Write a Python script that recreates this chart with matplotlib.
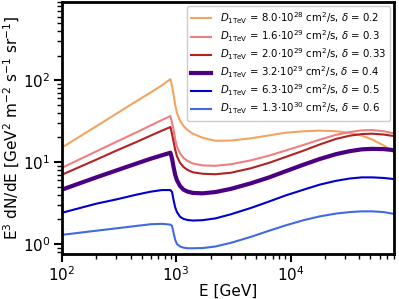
import numpy as np
import matplotlib
matplotlib.use("Agg")
import matplotlib.pyplot as plt

energy = [100, 200, 300, 450, 600, 750, 890, 920, 950, 980, 1015, 1080, 1160, 1260,
          1400, 1700, 2200, 3000, 4500, 6500, 9000, 13000, 18000, 25000, 33000,
          42000, 52000, 65000, 80000]

flux_d02 = [15.0, 27.4, 39.0, 55.5, 71.0, 86.5, 103.0, 85.0, 66.0, 50.0, 40.0, 32.0, 27.5, 24.5,
            22.2, 19.8, 18.2, 18.3, 19.5, 21.2, 22.8, 23.8, 24.2, 23.8, 22.8,
            21.0, 18.8, 16.0, 13.2]
flux_d03 = [8.5, 13.5, 17.7, 23.1, 28.1, 32.6, 36.5, 30.0, 24.5, 19.0, 15.4, 12.8, 11.2, 10.3,
            9.6, 9.1, 9.0, 9.4, 10.5, 12.0, 13.8, 16.2, 18.8, 21.5, 23.3,
            24.4, 24.6, 23.8, 22.4]
flux_d033 = [7.0, 10.7, 13.8, 17.6, 21.1, 24.2, 26.8, 22.0, 17.5, 14.2, 11.8, 9.8, 8.7, 8.0,
             7.5, 7.2, 7.1, 7.4, 8.4, 9.8, 11.5, 13.8, 16.4, 19.2, 21.0,
             22.0, 22.2, 21.7, 20.8]
flux_d04 = [4.6, 6.5, 7.9, 9.6, 11.0, 12.1, 13.0, 11.0, 8.6, 7.0, 6.0, 5.1, 4.6, 4.35,
            4.2, 4.15, 4.3, 4.7, 5.5, 6.5, 7.7, 9.3, 10.9, 12.5, 13.6,
            14.3, 14.5, 14.4, 14.0]
flux_d05 = [2.4, 3.1, 3.5, 4.0, 4.35, 4.55, 4.55, 4.3, 3.4, 2.8, 2.45, 2.15, 2.02, 1.96,
            1.93, 1.95, 2.05, 2.3, 2.75, 3.3, 3.9, 4.6, 5.3, 5.9, 6.3,
            6.5, 6.5, 6.4, 6.2]
flux_d06 = [1.29, 1.45, 1.55, 1.66, 1.74, 1.76, 1.72, 1.66, 1.35, 1.12, 1.0, 0.93, 0.9, 0.885,
            0.885, 0.89, 0.93, 1.03, 1.22, 1.45, 1.68, 1.95, 2.17, 2.35, 2.45,
            2.5, 2.5, 2.45, 2.33]

labels = [
    r"$D_{\rm 1TeV}$ = 8.0$\cdot$10$^{28}$ cm$^2$/s, $\delta$ = 0.2",
    r"$D_{\rm 1TeV}$ = 1.6$\cdot$10$^{29}$ cm$^2$/s, $\delta$ = 0.3",
    r"$D_{\rm 1TeV}$ = 2.0$\cdot$10$^{29}$ cm$^2$/s, $\delta$ = 0.33",
    r"$D_{\rm 1TeV}$ = 3.2$\cdot$10$^{29}$ cm$^2$/s, $\delta$ = 0.4",
    r"$D_{\rm 1TeV}$ = 6.3$\cdot$10$^{29}$ cm$^2$/s, $\delta$ = 0.5",
    r"$D_{\rm 1TeV}$ = 1.3$\cdot$10$^{30}$ cm$^2$/s, $\delta$ = 0.6",
]
colors = ["#f4a460", "#f08080", "#b22222", "#4b0082", "#0000cd", "#4169e1"]
widths = [1.5, 1.5, 1.5, 3.0, 1.5, 1.5]

fig = plt.figure(figsize=(3.99, 2.99), dpi=100)
ax = fig.add_axes([0.155, 0.150, 0.832, 0.843])

series = [flux_d02, flux_d03, flux_d033, flux_d04, flux_d05, flux_d06]
for flux, lab, c, lw in zip(series, labels, colors, widths):
    ax.plot(energy, flux, color=c, lw=lw, label=lab)

ax.set_xscale("log")
ax.set_yscale("log")
ax.set_xlim(100, 80000)
ax.set_ylim(0.75, 900)

ax.set_xlabel("E [GeV]", fontsize=11, labelpad=0)
ax.set_ylabel(r"E$^3$ dN/dE [GeV$^2$ m$^{-2}$ s$^{-1}$ sr$^{-1}$]", fontsize=11, labelpad=1)
ax.tick_params(axis="both", which="major", labelsize=11, length=6, width=1.5, pad=2)
ax.tick_params(axis="both", which="minor", length=3.5, width=1.0)
for sp in ax.spines.values():
    sp.set_linewidth(2)

ax.legend(loc="upper right", fontsize=7.3, framealpha=1.0, labelspacing=0.25,
          borderaxespad=0.4)

fig.savefig("out.png", dpi=100)
